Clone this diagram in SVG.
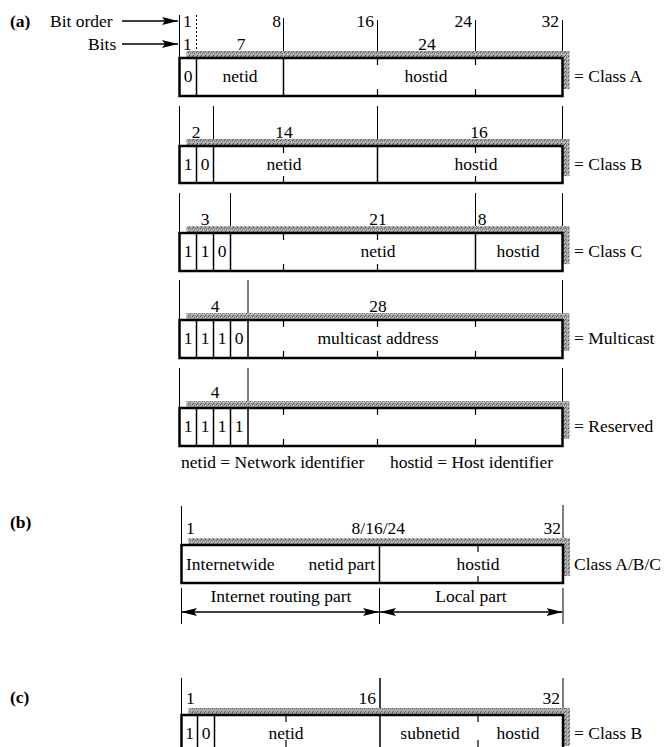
<svg xmlns="http://www.w3.org/2000/svg" width="671" height="747" viewBox="0 0 671 747">
<style>
text{font-family:"Liberation Serif","Times New Roman",serif;font-size:17.5px;fill:#000}
.m{text-anchor:middle}
.e{text-anchor:end}
.b{font-weight:bold}
.box{fill:#fff;stroke:#000;stroke-width:2.5}
.sh{fill:url(#ht);stroke:none}
.dv{stroke:#000;stroke-width:1.5;fill:none}
.tk{stroke:#000;stroke-width:1.2;fill:none}
.gd{stroke:#000;stroke-width:1;fill:none}
.dot{stroke:#000;stroke-width:1;stroke-dasharray:2 2;fill:none}
.ar{stroke:#000;stroke-width:1.3;fill:none}
</style>
<defs>
<pattern id="ht" width="4" height="4" patternUnits="userSpaceOnUse">
<rect width="4" height="4" fill="#a6a6a6"/>
<rect width="1" height="1" fill="#555"/>
<rect x="2" y="1" width="1" height="1" fill="#6a6a6a"/>
<rect x="1" y="3" width="1" height="1" fill="#5e5e5e"/>
<rect x="3" y="2" width="1" height="1" fill="#d0d0d0"/>
<rect x="1" y="1" width="1" height="1" fill="#cfcfcf"/>
</pattern>
<marker id="ah" viewBox="0 0 16 8" refX="16" refY="4" markerWidth="16" markerHeight="8" markerUnits="userSpaceOnUse" orient="auto-start-reverse">
<path d="M0,0 L16,4 L0,8 L3,4 Z" fill="#000"/>
</marker>
</defs>

<!-- (a) header -->
<g id="header-a">
<text x="10" y="27" class="b">(a)</text>
<text x="50" y="27">Bit order</text>
<text x="88" y="50">Bits</text>
<line class="gd" x1="179.5" y1="15" x2="179.5" y2="58"/>
<line class="dot" x1="196.5" y1="15" x2="196.5" y2="58"/>
<line class="gd" x1="283.5" y1="18" x2="283.5" y2="58"/>
<line class="gd" x1="377.5" y1="20" x2="377.5" y2="58"/>
<line class="gd" x1="475.5" y1="20" x2="475.5" y2="58"/>
<line class="gd" x1="562.5" y1="20" x2="562.5" y2="58"/>
<text x="183" y="27">1</text>
<text x="281" y="27" class="e">8</text>
<text x="374" y="27" class="e">16</text>
<text x="472" y="27" class="e">24</text>
<text x="559" y="27" class="e">32</text>
<text x="183" y="50">1</text>
<text x="241" y="50" class="m">7</text>
<text x="427" y="50" class="m">24</text>
</g>

<g id="connectors">
<line class="ar" x1="122" y1="21" x2="178" y2="21" marker-end="url(#ah)"/>
<line class="ar" x1="122" y1="44" x2="178" y2="44" marker-end="url(#ah)"/>
<line class="ar" x1="181" y1="612" x2="379" y2="612" marker-start="url(#ah)" marker-end="url(#ah)"/>
<line class="ar" x1="380" y1="612" x2="562.5" y2="612" marker-start="url(#ah)" marker-end="url(#ah)"/>
</g>

<!-- Class A -->
<g id="class-a">
<rect class="sh" x="186.5" y="51" width="383" height="38"/>
<rect class="box" x="179.5" y="58" width="383" height="38"/>
<line class="dv" x1="196.5" y1="58" x2="196.5" y2="96"/>
<line class="dv" x1="283.5" y1="58" x2="283.5" y2="96"/>
<path class="tk" d="M377.5,58v7M377.5,89v7M475.5,58v7M475.5,89v7"/>
<text x="188" y="82" class="m">0</text>
<text x="240" y="82" class="m">netid</text>
<text x="426" y="82" class="m">hostid</text>
<text x="574" y="82">= Class A</text>
</g>

<!-- Class B -->
<g id="class-b">
<path class="gd" d="M179.5,106V146M213.5,106V146M377.5,106V146M562.5,106V146"/>
<text x="196" y="138" class="m">2</text>
<text x="284" y="138" class="m">14</text>
<text x="479" y="138" class="m">16</text>
<rect class="sh" x="186.5" y="139" width="383" height="37"/>
<rect class="box" x="179.5" y="146" width="383" height="37"/>
<line class="dv" x1="196.5" y1="146" x2="196.5" y2="183"/>
<line class="dv" x1="213.5" y1="146" x2="213.5" y2="183"/>
<line class="dv" x1="377.5" y1="146" x2="377.5" y2="183"/>
<path class="tk" d="M283.5,146v7M283.5,176v7M475.5,146v7M475.5,176v7"/>
<text x="188" y="170" class="m">1</text>
<text x="205" y="170" class="m">0</text>
<text x="284" y="170" class="m">netid</text>
<text x="476" y="170" class="m">hostid</text>
<text x="574" y="170">= Class B</text>
</g>

<!-- Class C -->
<g id="class-c">
<path class="gd" d="M179.5,193V233M230.5,193V233M475.5,193V233M562.5,193V233"/>
<text x="205" y="225" class="m">3</text>
<text x="378" y="225" class="m">21</text>
<text x="482" y="225" class="m">8</text>
<rect class="sh" x="186.5" y="226" width="383" height="38"/>
<rect class="box" x="179.5" y="233" width="383" height="38"/>
<line class="dv" x1="196.5" y1="233" x2="196.5" y2="271"/>
<line class="dv" x1="213.5" y1="233" x2="213.5" y2="271"/>
<line class="dv" x1="230.5" y1="233" x2="230.5" y2="271"/>
<line class="dv" x1="475.5" y1="233" x2="475.5" y2="271"/>
<path class="tk" d="M283.5,233v7M283.5,264v7M377.5,233v7M377.5,264v7"/>
<text x="188" y="257" class="m">1</text>
<text x="205" y="257" class="m">1</text>
<text x="222" y="257" class="m">0</text>
<text x="378" y="257" class="m">netid</text>
<text x="518" y="257" class="m">hostid</text>
<text x="574" y="257">= Class C</text>
</g>

<!-- Multicast -->
<g id="multicast">
<path class="gd" d="M179.5,280V320M248,280V320M562.5,280V320"/>
<text x="215" y="312" class="m">4</text>
<text x="378" y="312" class="m">28</text>
<rect class="sh" x="186.5" y="313" width="383" height="38"/>
<rect class="box" x="179.5" y="320" width="383" height="38"/>
<line class="dv" x1="196.5" y1="320" x2="196.5" y2="358"/>
<line class="dv" x1="213.5" y1="320" x2="213.5" y2="358"/>
<line class="dv" x1="230.5" y1="320" x2="230.5" y2="358"/>
<line class="dv" x1="248" y1="320" x2="248" y2="358"/>
<path class="tk" d="M283.5,320v7M283.5,351v7M377.5,320v7M377.5,351v7M475.5,320v7M475.5,351v7"/>
<text x="188" y="344" class="m">1</text>
<text x="205" y="344" class="m">1</text>
<text x="222" y="344" class="m">1</text>
<text x="239" y="344" class="m">0</text>
<text x="378" y="344" class="m">multicast address</text>
<text x="574" y="344">= Multicast</text>
</g>

<!-- Reserved -->
<g id="reserved">
<path class="gd" d="M179.5,368V408M248,368V408M562.5,368V408"/>
<text x="215" y="398" class="m">4</text>
<rect class="sh" x="186.5" y="401" width="383" height="38"/>
<rect class="box" x="179.5" y="408" width="383" height="38"/>
<line class="dv" x1="196.5" y1="408" x2="196.5" y2="446"/>
<line class="dv" x1="213.5" y1="408" x2="213.5" y2="446"/>
<line class="dv" x1="230.5" y1="408" x2="230.5" y2="446"/>
<line class="dv" x1="248" y1="408" x2="248" y2="446"/>
<path class="tk" d="M283.5,408v7M283.5,439v7M377.5,408v7M377.5,439v7M475.5,408v7M475.5,439v7"/>
<text x="188" y="432" class="m">1</text>
<text x="205" y="432" class="m">1</text>
<text x="222" y="432" class="m">1</text>
<text x="239" y="432" class="m">1</text>
<text x="574" y="432">= Reserved</text>
</g>

<g id="legend">
<text x="181" y="468">netid = Network identifier</text>
<text x="390" y="468">hostid = Host identifier</text>
</g>

<!-- (b) -->
<g id="class-abc">
<text x="10" y="528" class="b">(b)</text>
<path class="gd" d="M181.5,506V545M563,505V545"/>
<text x="186" y="534">1</text>
<text x="405" y="534" class="e">8/16/24</text>
<text x="561" y="534" class="e">32</text>
<rect class="sh" x="188.5" y="538" width="381.5" height="38"/>
<rect class="box" x="181.5" y="545" width="381.5" height="38"/>
<line class="dv" x1="379.5" y1="545" x2="379.5" y2="583"/>
<path class="tk" d="M478,545v7M478,576v7"/>
<text x="186" y="570">Internetwide</text>
<text x="375" y="570" class="e">netid part</text>
<text x="478" y="570" class="m">hostid</text>
<text x="574" y="570">Class A/B/C</text>
</g>

<g id="routing">
<path class="gd" d="M181.5,588V624M379.5,588V624M563,588V624"/>
<text x="281" y="602" class="m">Internet routing part</text>
<text x="471" y="602" class="m">Local part</text>
</g>

<!-- (c) -->
<g id="class-b-subnet">
<text x="10" y="703" class="b">(c)</text>
<path class="gd" d="M181.5,678V715M563,678V715"/>
<line class="dv" x1="380" y1="678" x2="380" y2="715"/>
<text x="186" y="704">1</text>
<text x="376" y="704" class="e">16</text>
<text x="560" y="704" class="e">32</text>
<rect class="sh" x="188.5" y="708" width="381.5" height="38"/>
<rect class="box" x="181.5" y="715" width="381.5" height="38"/>
<line class="dv" x1="197.5" y1="715" x2="197.5" y2="753"/>
<line class="dv" x1="214.5" y1="715" x2="214.5" y2="753"/>
<line class="dv" x1="380" y1="715" x2="380" y2="753"/>
<path class="tk" d="M286,715v7M286,740v7M478,715v7M478,740v7"/>
<text x="189.5" y="739" class="m">1</text>
<text x="206" y="739" class="m">0</text>
<text x="286" y="739" class="m">netid</text>
<text x="430" y="739" class="m">subnetid</text>
<text x="518" y="739" class="m">hostid</text>
<text x="574" y="739">= Class B</text>
</g>
</svg>
